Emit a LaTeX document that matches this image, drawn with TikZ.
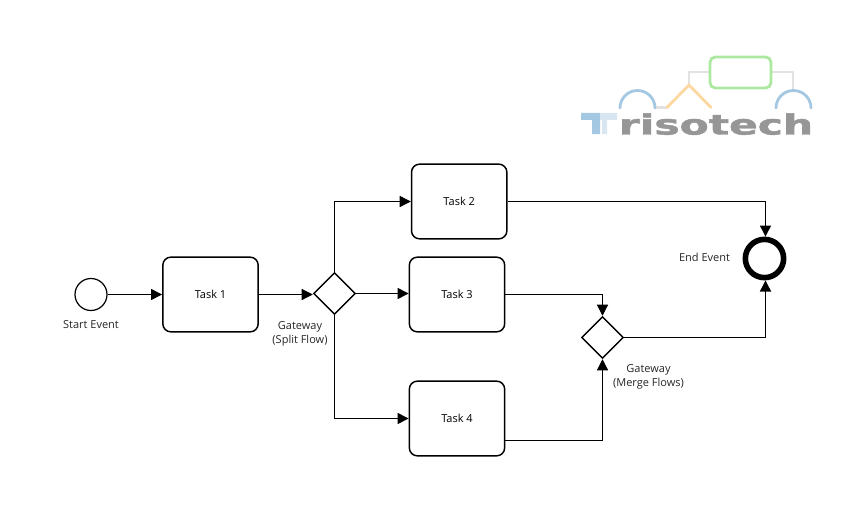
\documentclass[tikz,border=0pt]{standalone}
\usepackage{fontspec}
\setmainfont{Open Sans}
\newfontfamily\logofont[FakeBold=1.6]{DejaVu Sans Bold}
\usetikzlibrary{arrows.meta}
\usetikzlibrary{shapes.geometric}
\usetikzlibrary{positioning}
\tikzset{
    task/.style={draw,line width=1.1pt,rounded corners=6pt,minimum width=71.5pt,minimum height=56pt,inner sep=0pt,font=\fontsize{8.25}{10}\selectfont},
    gate/.style={draw,diamond,line width=1.1pt,minimum width=31.5pt,minimum height=31.5pt,inner sep=0pt},
    flow/.style={line width=0.8pt,-{Triangle[length=8.3pt,width=8.3pt]}},
    lbl/.style={align=center,inner sep=0pt,text=black!85,font=\fontsize{8.25}{10.5}\selectfont},
    logoline/.style={line width=2.1pt,line cap=round},
}
\definecolor{logoblue}{RGB}{165,200,226}
\definecolor{logopale}{RGB}{216,230,241}
\definecolor{logogreen}{RGB}{172,232,160}
\definecolor{logoorange}{RGB}{252,215,160}
\definecolor{logogrey}{RGB}{226,226,226}
\definecolor{logotext}{RGB}{150,150,150}
\begin{document}
\begin{tikzpicture}[x=0.75pt,y=-0.75pt]
    \useasboundingbox (0,0) rectangle (857,517);

    \draw[logogrey,logoline] (655,107.5) -- (667,107.5);
    \draw[logogrey,logoline] (689,85) -- (689,72) -- (710,72);
    \draw[logogrey,logoline] (772,72) -- (793,72) -- (793,90);
    \draw[logogreen,logoline,rounded corners=4pt] (710,57) rectangle (771,88);
    \draw[logoorange,logoline] (667,107.5) -- (689,85) -- (711,107.5);
    \draw[logoblue,logoline] (620,108) arc (180:360:17.5);
    \draw[logoblue,logoline] (776,108) arc (180:360:17.5);
    \fill[logoblue] (581,113) rectangle (600,120) (592,113) rectangle (600,134);
    \fill[logopale] (600,113) rectangle (617,120) (602,113) rectangle (607,134);
    \node[inner sep=0pt,text=logotext,anchor=base west,xscale=1.53] (logotext) at (618.5,134.5) {\logofont\fontsize{20.8}{21}\selectfont risotech};

    \node[draw,circle,line width=0.9pt,minimum size=24pt,inner sep=0pt] (start) at (91,294.5) {};
    \node[task] (task1) at (210.5,294.5) {Task 1};
    \node[gate] (split) at (334.5,293.5) {};
    \node[task] (task2) at (459.2,201.5) {Task 2};
    \node[task] (task3) at (457,294.5) {Task 3};
    \node[task] (task4) at (457,418.5) {Task 4};
    \node[gate] (merge) at (602.5,337.5) {};
    \node[draw,circle,line width=4.2pt,minimum size=28.7pt,inner sep=0pt] (end) at (764.5,258.5) {};

    \node[lbl,below=7pt of start] (startlbl) {Start Event};
    \node[lbl] (splitlbl) at (300,334) {Gateway\\(Split Flow)};
    \node[lbl] (mergelbl) at (648.5,377) {Gateway\\(Merge Flows)};
    \node[lbl] (endlbl) at (704.5,257) {End Event};

    \coordinate (task4out) at (505,440.5);

    \draw[flow] (start) -- (task1);
    \draw[flow] (task1.east) -- (task1.east -| split.west);
    \draw[flow] (split.north) |- (task2);
    \draw[flow] (split.east) -- (task3.west |- split.east);
    \draw[flow] (split.south) |- (task4);
    \draw[flow] (task2) -| ([xshift=0.75pt]end.north);
    \draw[flow] (task3) -| (merge.north);
    \draw[flow] (task4out) -| (merge.south);
    \draw[flow] (merge.east) -| ([xshift=0.75pt]end.south);
\end{tikzpicture}
\end{document}
